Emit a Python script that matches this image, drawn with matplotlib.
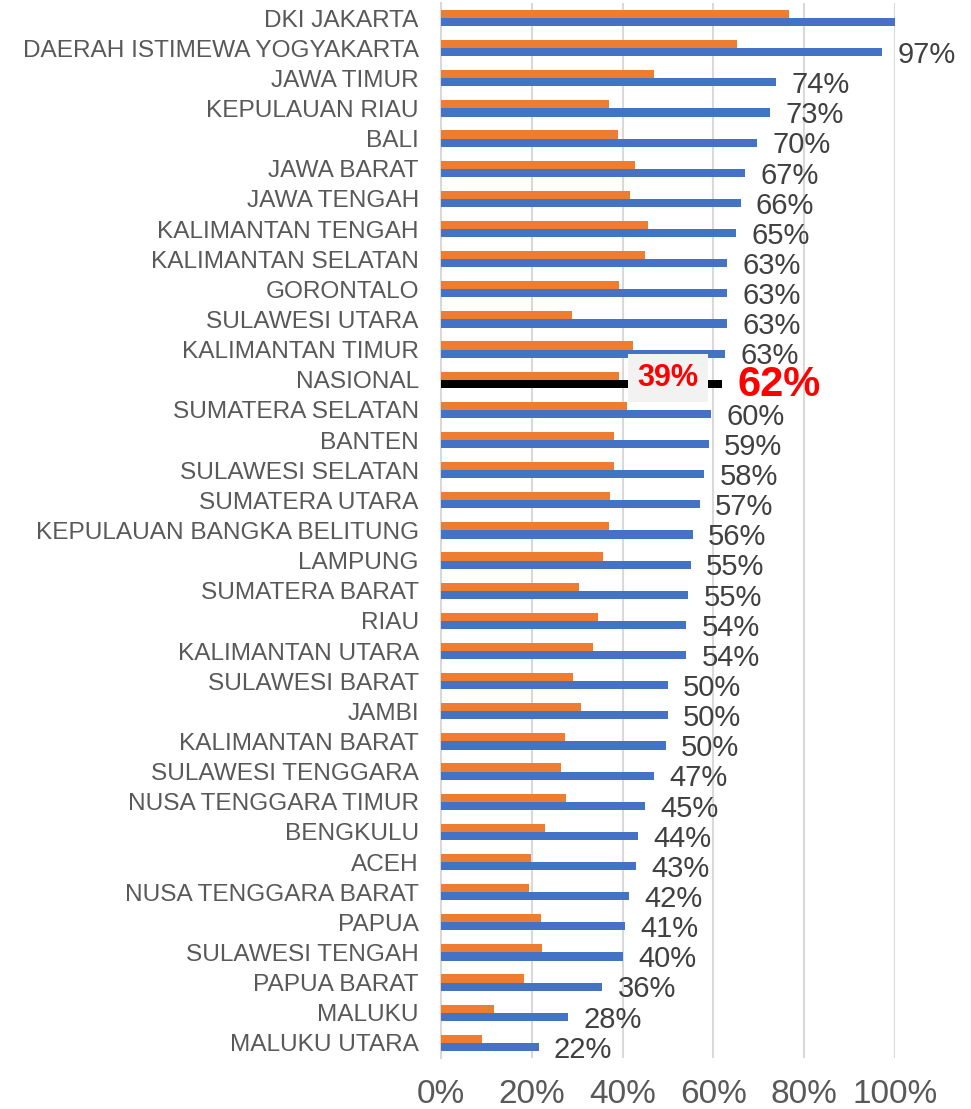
import matplotlib
matplotlib.use("Agg")
import matplotlib.pyplot as plt

plt.rcParams['font.family'] = ['Liberation Sans', 'DejaVu Sans']

provinces = [
    "DKI JAKARTA", "DAERAH ISTIMEWA YOGYAKARTA", "JAWA TIMUR", "KEPULAUAN RIAU",
    "BALI", "JAWA BARAT", "JAWA TENGAH", "KALIMANTAN TENGAH", "KALIMANTAN SELATAN",
    "GORONTALO", "SULAWESI UTARA", "KALIMANTAN TIMUR", "NASIONAL",
    "SUMATERA SELATAN", "BANTEN", "SULAWESI SELATAN", "SUMATERA UTARA",
    "KEPULAUAN BANGKA BELITUNG", "LAMPUNG", "SUMATERA BARAT", "RIAU",
    "KALIMANTAN UTARA", "SULAWESI BARAT", "JAMBI", "KALIMANTAN BARAT",
    "SULAWESI TENGGARA", "NUSA TENGGARA TIMUR", "BENGKULU", "ACEH",
    "NUSA TENGGARA BARAT", "PAPUA", "SULAWESI TENGAH", "PAPUA BARAT",
    "MALUKU", "MALUKU UTARA",
]
# orange series (%)
orange_vals = [
    76.6, 65.3, 47.0, 37.1, 39.0, 42.7, 41.6, 45.6, 45.0, 39.2, 28.9, 42.3, 39.3,
    41.0, 38.0, 38.0, 37.2, 37.0, 35.7, 30.4, 34.6, 33.5, 29.0, 30.8, 27.3,
    26.4, 27.5, 23.0, 19.8, 19.4, 22.0, 22.2, 18.3, 11.7, 9.0,
]
# blue series (%)
blue_vals = [
    100.0, 97.2, 73.9, 72.5, 69.6, 67.0, 66.0, 65.0, 63.0, 63.0, 63.0, 62.5, 62.0,
    59.5, 59.0, 58.0, 57.0, 55.5, 55.0, 54.5, 54.0, 54.0, 50.0, 50.0, 49.5,
    47.0, 45.0, 43.5, 43.0, 41.5, 40.6, 40.0, 35.5, 28.0, 21.5,
]
highlight = "NASIONAL"
xtick_vals = [0, 20, 40, 60, 80, 100]

fig = plt.figure(figsize=(9.71, 11.09), dpi=100)
ax = fig.add_axes([0.4542, 0.046, 0.4675, 0.9513])

h = 0.27
ypos = list(range(len(provinces)))
blue_colors = ['black' if p == highlight else '#4472C4' for p in provinces]
ax.barh([y - h / 2 for y in ypos], orange_vals, height=h, color='#ED7D31', zorder=3)
ax.barh([y + h / 2 for y in ypos], blue_vals, height=h, color=blue_colors, zorder=3)

for y, p, v, o in zip(ypos, provinces, blue_vals, orange_vals):
    if v >= 100:
        continue  # label falls outside the plot in the original
    lab = f"{int(v + 0.5)}%"
    if p == highlight:
        ax.annotate(lab, xy=(v, y + h / 2), xytext=(11, -1), textcoords='offset points',
                    va='center', ha='left', fontsize=30, fontweight='bold',
                    color='#FF0000', annotation_clip=False, zorder=5)
        ax.text(50.0, y - 0.07, f"{int(o + 0.5)}%", va='center', ha='center',
                fontsize=22, fontweight='bold', color='#FF0000', zorder=5,
                bbox=dict(boxstyle='square,pad=0.3', fc='#F2F2F2', ec='none'))
    else:
        ax.annotate(lab, xy=(v, y + h / 2), xytext=(11, -2), textcoords='offset points',
                    va='center', ha='left', fontsize=21, color='#404040',
                    annotation_clip=False, zorder=5)

ax.set_xlim(0, 100)
ax.set_ylim(len(provinces) - 0.5, -0.5)
ax.set_yticks(ypos)
ax.set_yticklabels(provinces, fontsize=17.6, color='#595959')
ax.set_xticks(xtick_vals)
ax.set_xticklabels([f"{v}%" for v in xtick_vals], fontsize=24, color='#595959')
ax.tick_params(axis='y', length=0, pad=16)
ax.tick_params(axis='x', length=0, pad=15)
ax.grid(axis='x', color='#D9D9D9', linewidth=1.5, zorder=0)
for s in ['top', 'right', 'bottom']:
    ax.spines[s].set_visible(False)
ax.spines['left'].set_color('#D9D9D9')
ax.spines['left'].set_linewidth(1.5)

fig.savefig("out.png", dpi=100)
